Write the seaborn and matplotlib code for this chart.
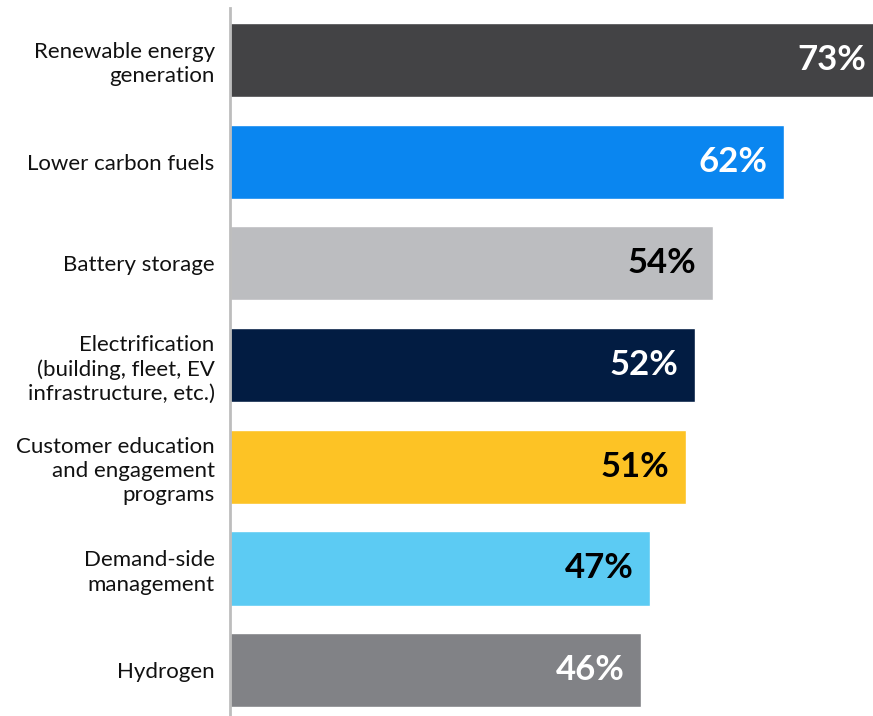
import numpy as np
import pandas as pd
import matplotlib.pyplot as plt
import seaborn as sns

categories = ["Renewable energy\ngeneration", "Lower carbon fuels", "Battery storage",
              "Electrification\n(building, fleet, EV\ninfrastructure, etc.)",
              "Customer education\nand engagement\nprograms",
              "Demand-side\nmanagement", "Hydrogen"]
values = [73, 62, 54, 52, 51, 47, 46]
bar_colors = ["#434345", "#0a86f0", "#bcbdc0", "#021c42", "#fdc325", "#5ccbf3", "#818286"]
label_colors = ["white", "white", "black", "white", "black", "black", "white"]

df = pd.DataFrame({"category": categories, "value": values})

sns.set_style("white")
plt.rcParams['font.family'] = ['Lato', 'DejaVu Sans']

fig = plt.figure(figsize=(8.73, 7.16), dpi=100)
ax = fig.add_axes([230 / 873, 0, 643 / 873, 708 / 716])

sns.barplot(data=df, x="value", y="category", hue="category", palette=bar_colors,
            legend=False, width=0.728, ax=ax, saturation=1)

ax.set_xlim(0, 71.9)
ax.set_ylim(6.45, -0.51)
ax.set_xlabel("")
ax.set_ylabel("")
ax.set_xticks([])
for s in ["top", "right", "bottom"]:
    ax.spines[s].set_visible(False)
ax.spines["left"].set_color("#bdbdbd")
ax.spines["left"].set_linewidth(2)
ax.tick_params(axis="y", length=0, pad=11)
for t in ax.get_yticklabels():
    t.set_fontsize(16)
    t.set_linespacing(1.27)
    t.set_color("#111111")

for i, (v, c) in enumerate(zip(values, label_colors)):
    ax.annotate(f"{v}%", xy=(v, i), xytext=(-12, 0), textcoords="offset points",
                ha="right", va="center", fontsize=25, fontweight="bold", color=c,
                annotation_clip=False)

fig.savefig("out.png", dpi=100)
